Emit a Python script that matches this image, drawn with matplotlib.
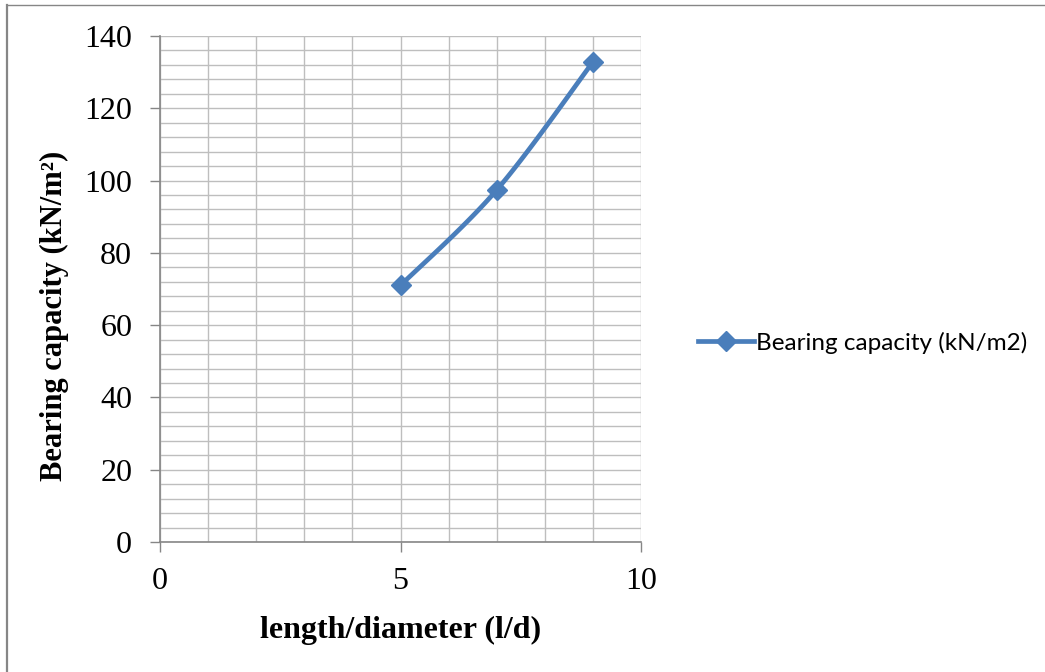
import numpy as np
import matplotlib
matplotlib.use("Agg")
import matplotlib.pyplot as plt
from matplotlib.lines import Line2D

# data
ld_ratio = [5, 7, 9]
bearing = [71.0, 97.4, 132.8]
series_name = "Bearing capacity (kN/m2)"
x_ticks = [0, 5, 10]
y_ticks = [0, 20, 40, 60, 80, 100, 120, 140]


def excel_smooth(x, y, n=60):
    # Excel-like smoothed line: cubic Bezier through points, Catmull-Rom controls
    p = np.column_stack([x, y]).astype(float)
    pts = []
    for i in range(len(p) - 1):
        p0 = p[i - 1] if i > 0 else p[i]
        p3 = p[i + 2] if i + 2 < len(p) else p[i + 1]
        c1 = p[i] + (p[i + 1] - p0) / 6.0
        c2 = p[i + 1] - (p3 - p[i]) / 6.0
        t = np.linspace(0, 1, n)[:, None]
        seg = ((1 - t) ** 3) * p[i] + 3 * ((1 - t) ** 2) * t * c1 \
            + 3 * (1 - t) * t ** 2 * c2 + t ** 3 * p[i + 1]
        pts.append(seg)
    pts = np.vstack(pts)
    return pts[:, 0], pts[:, 1]


fig = plt.figure(figsize=(10.45, 6.72), dpi=100)
ax = fig.add_axes([160 / 1045, 130 / 672, 481 / 1045, 506 / 672])

blue = "#4A7EBB"
sx, sy = excel_smooth(ld_ratio, bearing)
ax.plot(sx, sy, color=blue, lw=3.4, solid_capstyle="round", zorder=3)
ax.plot(ld_ratio, bearing, ls="none", marker="D", ms=10, color=blue, zorder=4)

ax.set_xlim(0, 10)
ax.set_ylim(0, 140)
ax.set_xticks(x_ticks)
ax.set_yticks(y_ticks)
ax.set_xticks(np.arange(0, 11, 1), minor=True)
ax.set_yticks(np.arange(0, 141, 4), minor=True)
ax.grid(which="both", color="#BEBEBE", lw=1.0, zorder=0)
ax.set_axisbelow(True)

for s in ["top", "right"]:
    ax.spines[s].set_visible(False)
for s in ["left", "bottom"]:
    ax.spines[s].set_color("#868686")
    ax.spines[s].set_linewidth(1.2)

ax.tick_params(which="major", length=7, width=1.0, color="#868686",
               labelsize=23)
ax.tick_params(axis="x", which="major", pad=11)
ax.tick_params(axis="y", which="major", pad=13)
ax.tick_params(which="minor", length=0)
for lab in ax.get_xticklabels() + ax.get_yticklabels():
    lab.set_fontfamily("Liberation Serif")

ax.set_xlabel("length/diameter (l/d)", fontfamily="Liberation Serif",
              fontweight="bold", fontsize=23, labelpad=14)
ax.set_ylabel("Bearing capacity (kN/m²)", fontfamily="Liberation Serif",
              fontweight="bold", fontsize=22)
ax.yaxis.set_label_coords(-0.19, 0.447)

handle = Line2D([], [], color=blue, lw=3.4, marker="D", ms=10)
fig.legend([handle], [series_name], loc="center left",
           bbox_to_anchor=(0.647, 0.49), frameon=False, handlelength=2.3,
           handletextpad=0.1, prop={"family": "Lato", "size": 17.5}, numpoints=1)

# outer border (left and top only, as in the reference)
fig.add_artist(Line2D([6.5 / 1045, 6.5 / 1045], [0, 1 - 5 / 672],
                      transform=fig.transFigure, color="#868686", lw=1.6))
fig.add_artist(Line2D([6.5 / 1045, 1], [1 - 5 / 672, 1 - 5 / 672],
                      transform=fig.transFigure, color="#868686", lw=1.0))

fig.savefig("out.png", dpi=100)
